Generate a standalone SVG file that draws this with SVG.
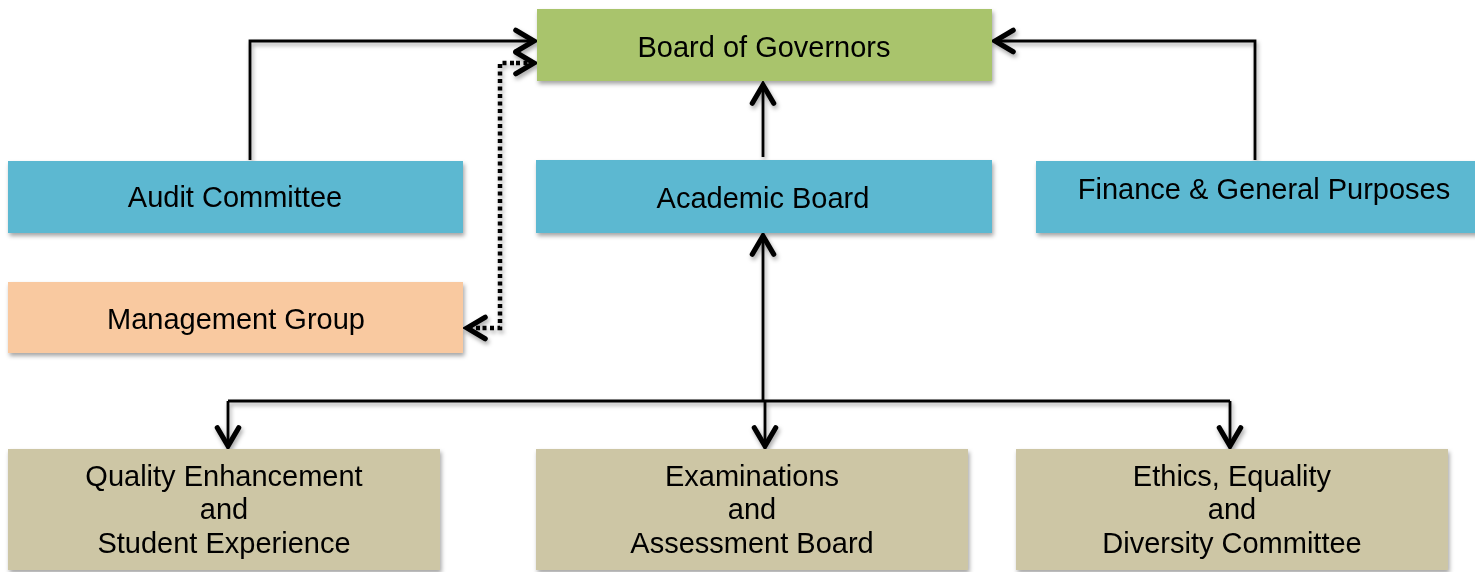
<svg xmlns="http://www.w3.org/2000/svg" width="1475" height="572" viewBox="0 0 1475 572">
<style>
text{font-family:"Liberation Sans",Arial,Helvetica,sans-serif;font-size:29px;fill:#000;text-anchor:middle}
.gov{fill:#a9c46c}
.blue{fill:#5bb8d1}
.peach{fill:#f9c9a0}
.tan{fill:#cdc6a5}
.box{filter:url(#sh)}
.ln{fill:none;stroke:#000;stroke-width:2.8}
.dot{fill:none;stroke:#000;stroke-width:4.5;stroke-dasharray:4 3.5}
</style>
<defs>
<filter id="sh" x="-5%" y="-10%" width="115%" height="130%">
<feDropShadow dx="1.5" dy="3" stdDeviation="2" flood-color="#000" flood-opacity="0.35"/>
</filter>
<marker id="ah" markerUnits="userSpaceOnUse" markerWidth="30" markerHeight="30" viewBox="-22 -14 26 28" refX="0" refY="0" orient="auto-start-reverse">
<path d="M-17,-10 L0,0 L-17,10" fill="none" stroke="#000" stroke-width="4.8" stroke-linecap="round" stroke-linejoin="miter"/>
</marker>
</defs>
<g id="connectors" filter="url(#sh)">
<path class="ln" d="M250,160 V41 H534" marker-end="url(#ah)"/>
<path class="ln" d="M1255,160 V41 H995" marker-end="url(#ah)"/>
<path class="ln" d="M763,157 V85" marker-end="url(#ah)"/>
<path class="ln" d="M763,400 V236" marker-end="url(#ah)"/>
<path class="ln" d="M765,400 V446" marker-end="url(#ah)"/>
<path class="ln" d="M228,401 H1230"/>
<path class="ln" d="M228,401 V446" marker-end="url(#ah)"/>
<path class="ln" d="M1230,401 V446" marker-end="url(#ah)"/>
<path class="dot" d="M514,63 H500 V328 H482"/>
<path d="M516,63 H534" class="dot" marker-end="url(#ah)"/>
<path d="M480,328 H467" class="dot" marker-end="url(#ah)"/>
</g>
<g id="board-of-governors" class="box"><rect class="gov" x="537" y="9" width="455" height="72"/><text x="764" y="57">Board of Governors</text></g>
<g id="audit-committee" class="box"><rect class="blue" x="8" y="161" width="455" height="72"/><text x="235" y="207">Audit Committee</text></g>
<g id="academic-board" class="box"><rect class="blue" x="536" y="160" width="456" height="73"/><text x="763" y="208">Academic Board</text></g>
<g id="finance" class="box"><rect class="blue" x="1036" y="161" width="460" height="72"/><text x="1264" y="199">Finance &amp; General Purposes</text></g>
<g id="management-group" class="box"><rect class="peach" x="8" y="282" width="455" height="71"/><text x="236" y="329">Management Group</text></g>
<g id="quality" class="box"><rect class="tan" x="8" y="449" width="432" height="121"/><text x="224" y="486">Quality Enhancement</text><text x="224" y="519">and</text><text x="224" y="553">Student Experience</text></g>
<g id="examinations" class="box"><rect class="tan" x="536" y="449" width="432" height="121"/><text x="752" y="486">Examinations</text><text x="752" y="519">and</text><text x="752" y="553">Assessment Board</text></g>
<g id="ethics" class="box"><rect class="tan" x="1016" y="449" width="432" height="121"/><text x="1232" y="486">Ethics, Equality</text><text x="1232" y="519">and</text><text x="1232" y="553">Diversity Committee</text></g>
</svg>
